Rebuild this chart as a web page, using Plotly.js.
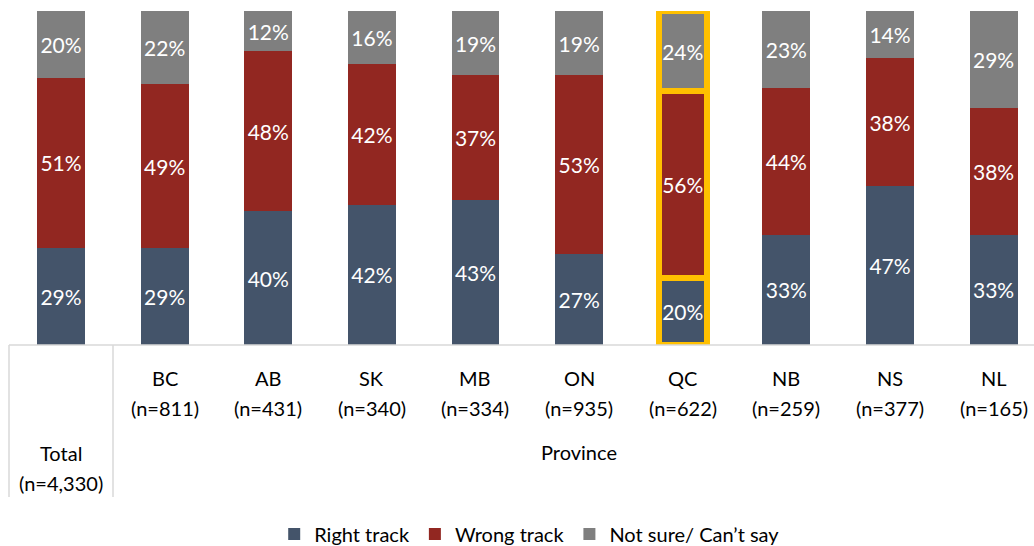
<!DOCTYPE html>
<html>
<head>
<meta charset="utf-8">
<script src="https://cdn.plot.ly/plotly-3.0.1.min.js"></script>
<style>html,body{margin:0;padding:0;background:#fff;}#chart{width:1034px;height:546px;}</style>
</head>
<body>
<div id="chart"></div>
<script>
var regions = ["Total", "BC", "AB", "SK", "MB", "ON", "QC", "NB", "NS", "NL"];
var sampleSizes = ["(n=4,330)", "(n=811)", "(n=431)", "(n=340)", "(n=334)", "(n=935)", "(n=622)", "(n=259)", "(n=377)", "(n=165)"];
var rightTrack = [29, 29, 40, 42, 43, 27, 20, 33, 47, 33];
var wrongTrack = [51, 49, 48, 42, 37, 53, 56, 44, 38, 38];
var notSure = [20, 22, 12, 16, 19, 19, 24, 23, 14, 29];
var groupLabel = "Province";
var highlighted = "QC";

var xs = regions.map(function (_, i) { return i; });
var FONT = "Lato, 'Open Sans', sans-serif";
var lineColors = regions.map(function (r) { return r === highlighted ? "#FFC000" : "rgba(0,0,0,0)"; });
var lineWidths = regions.map(function (r) { return r === highlighted ? 6 : 0; });

function trace(name, vals, color) {
  return {
    type: "bar", name: name, x: xs, y: vals,
    width: 0.463,
    marker: { color: color, line: { color: lineColors, width: lineWidths } },
    text: vals.map(function (v) { return v + "%"; }),
    textposition: "inside", insidetextanchor: "middle", textangle: 0,
    textfont: { color: "#ffffff", size: 21, family: FONT },
    hoverinfo: "skip"
  };
}

var data = [
  trace("Right track", rightTrack, "#44546A"),
  trace("Wrong track", wrongTrack, "#922721"),
  trace("Not sure/ Can\u2019t say", notSure, "#7F7F7F")
];

var H = 334;
function py(px) { return -(px - 345) / H; }
function pxx(px) { return (px - 9) / 1025; }

var annotations = [];
regions.forEach(function (r, i) {
  var isTotal = i === 0;
  annotations.push({ x: i, xref: "x", y: py(isTotal ? 453 : 378), yref: "paper", text: r, showarrow: false,
    xanchor: "center", yanchor: "middle", font: { size: 20, color: "#000", family: FONT } });
  annotations.push({ x: i, xref: "x", y: py(isTotal ? 483 : 408), yref: "paper", text: sampleSizes[i], showarrow: false,
    xanchor: "center", yanchor: "middle", font: { size: 20, color: "#000", family: FONT } });
});
annotations.push({ x: 5, xref: "x", y: py(452), yref: "paper", text: groupLabel, showarrow: false,
  xanchor: "center", yanchor: "middle", font: { size: 20, color: "#000", family: FONT } });

var lineStyle = { color: "#D9D9D9", width: 1.5 };
var shapes = [
  { type: "line", xref: "paper", yref: "paper", x0: 0, x1: 1, y0: 0, y1: 0, line: lineStyle, layer: "above" },
  { type: "line", xref: "paper", yref: "paper", x0: 0, x1: 0, y0: 0, y1: py(497), line: lineStyle },
  { type: "line", xref: "paper", yref: "paper", x0: pxx(113), x1: pxx(113), y0: 0, y1: py(497), line: lineStyle }
];

var layout = {
  width: 1034, height: 546,
  margin: { l: 9, r: 0, t: 11, b: 201, autoexpand: false },
  paper_bgcolor: "#fff", plot_bgcolor: "#fff",
  barmode: "stack", barnorm: "percent",
  uniformtext: { mode: "show", minsize: 21 },
  xaxis: { range: [-0.502, 9.39], showticklabels: false, showgrid: false, zeroline: false, showline: false, ticks: "", fixedrange: true },
  yaxis: { range: [0, 100], showticklabels: false, showgrid: false, zeroline: false, showline: false, ticks: "", fixedrange: true },
  showlegend: true,
  legend: { orientation: "h", x: 0.508, xanchor: "center", y: py(534), yanchor: "middle",
    font: { size: 20, color: "#000", family: FONT }, itemwidth: 30, traceorder: "normal", itemclick: false },
  annotations: annotations,
  shapes: shapes,
  font: { family: FONT }
};

Plotly.newPlot("chart", data, layout, { displayModeBar: false, staticPlot: true });
</script>
</body>
</html>
